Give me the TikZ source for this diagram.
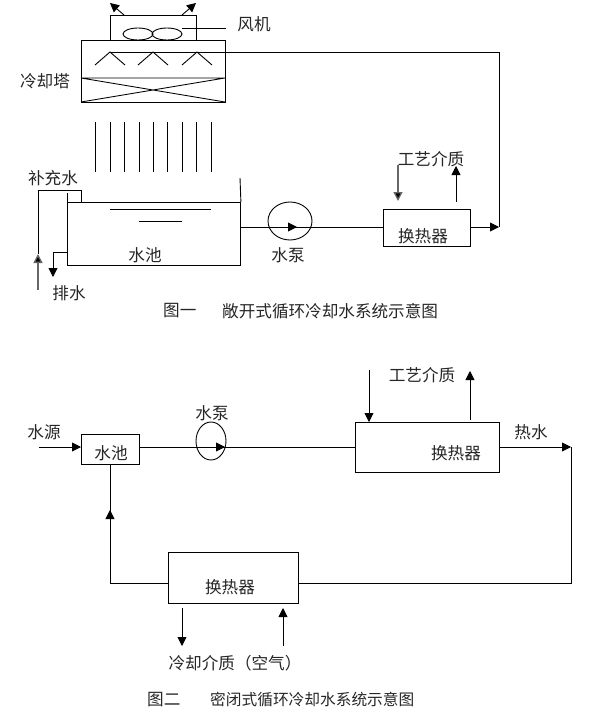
\documentclass[tikz,border=0pt]{standalone}
\usepackage{fontspec}
\usetikzlibrary{arrows.meta,shapes.geometric}
\newfontfamily\cjk{Noto Sans CJK SC}[Scale=1]
\tikzset{
  lbl/.style={inner sep=0pt,font=\cjk\fontsize{16.6}{17}\selectfont,text=black!85},
  lblb/.style={inner sep=0pt,font=\cjk\fontsize{15.7}{17}\selectfont,text=black!85},
  boxn/.style={draw,line width=0.9pt,inner sep=0pt,anchor=north west},
  ln/.style={line width=0.9pt},
  arr/.style={line width=0.9pt,-{Triangle[length=9pt,width=9pt]}},
  garr/.style={line width=1.3pt,draw=black!60,-{Triangle[length=9pt,width=9pt,fill=black]}},
  circ/.style={draw,ellipse,line width=0.9pt,inner sep=0pt}
}
\newcommand{\bx}[6]{\node[boxn,minimum width=#4 pt,minimum height=#5 pt] (#1) at (#2,#3) {#6};}
\begin{document}
\begin{tikzpicture}[x=1pt,y=-1pt]
\useasboundingbox (0,0) rectangle (599,717);
% Figure 1: tower
\bx{fanbox}{110}{15}{86}{25}{}
\bx{tower}{81}{40}{144}{62}{}
\coordinate (fillL) at (81,78);
\coordinate (fillR) at (225,78);
\coordinate (tbl) at (81,102);
\coordinate (tbr) at (225,102);
\draw[ln] (fillL) -- (fillR) (fillL) -- (tbr) (tbl) -- (fillR);
\node[circ,minimum width=30pt,minimum height=12pt] (fan1) at (138,34) {};
\node[circ,minimum width=30pt,minimum height=12pt] (fan2) at (167,34) {};
\coordinate (out1s) at (124,15); \coordinate (out1e) at (110,3);
\coordinate (out2s) at (182,15); \coordinate (out2e) at (196,3);
\draw[arr] (out1s) -- (out1e);
\draw[arr] (out2s) -- (out2e);
\node[lbl] (fanlbl) at (254,24) {风机};
\coordinate (fanlead) at (226,28);
\draw[ln] (182,28) -- (fanlead);
\node[lbl] (towerlbl) at (45,81) {冷却塔};
\foreach \a in {110,153,197}
  \draw[ln] (\a-15,65) -- (\a,52) -- (\a+15,65);
\foreach \a in {95,110,124,139,153,167,182,196,211}
  \draw[ln] (\a,122) -- (\a,172);
% Pool
\bx{pool}{67}{202}{173}{63}{}
\draw[ln] (pool.north west) -- (67,193);
\draw[ln] (pool.north east) -- (240,178);
\draw[ln] (110,209) -- (211,209);
\draw[ln] (139,221) -- (182,221);
\node[lbl] (poollbl) at (145,255) {水池};
\coordinate (mk0) at (38,290);
\coordinate (mk1) at (38,254);
\coordinate (mk2) at (38,190);
\coordinate (mk3) at (81,190);
\coordinate (mk4) at (81,202);
\draw[ln] (mk1) -- (mk2) -- (mk3) -- (mk4);
\draw[garr] (mk0) -- (mk1);
\node[lbl] (mklbl) at (53,178) {补充水};
\coordinate (dr0) at (67,252);
\coordinate (dr1) at (53,252);
\coordinate (dr2) at (53,277);
\draw[arr] (dr0) -- (dr1) -- (dr2);
\node[lbl] (drlbl) at (69,293) {排水};
% Pump & HX
\node[circ,minimum width=44pt,minimum height=38pt] (pump1) at (290,221) {};
\bx{hx1}{383}{209}{87}{37}{}
\coordinate (p1in) at (240,227);
\coordinate (p1tip) at (297,227);
\draw[ln] (p1in) -- (hx1.west |- p1in);
\draw[arr] (p1in) -- (p1tip);
\node[lbl] (p1lbl) at (288,255) {水泵};
\node[lbl] (hx1lbl) at (423,236) {换热器};
\node[lbl] (proc1) at (431,159) {工艺介质};
\coordinate (pd0) at (398,165); \coordinate (pd1) at (398,201);
\coordinate (pu0) at (456,202); \coordinate (pu1) at (456,166);
\draw[garr] (pd0) -- (pd1);
\draw[arr] (pu0) -- (pu1);
\coordinate (ret) at (499,227);
\coordinate (rettop) at (499,52);
\coordinate (roof) at (110,52);
\draw[ln] (roof) -- (rettop) -- (ret);
\draw[arr] (470,227) -- (ret);
\node[lbl,anchor=west] (cap1a) at (163,311) {图一};
\node[lbl,anchor=west] (cap1b) at (222,311) {敞开式循环冷却水系统示意图};
% Figure 2
\bx{pool2}{81}{434}{58}{30}{}
\node[lbl] (pool2lbl) at (111,453) {水池};
\node[lbl] (srclbl) at (44,432) {水源};
\coordinate (src) at (39,447);
\draw[arr] (src) -- (pool2.west |- src);
\bx{hx2}{355}{422}{144}{50}{}
\node[lbl] (hx2lbl) at (456,453) {换热器};
\node[circ,minimum width=30pt,minimum height=38pt] (pump2) at (211,441) {};
\node[lbl] (p2lbl) at (212,413) {水泵};
\coordinate (p2a) at (139,447);
\coordinate (p2tip) at (225,447);
\draw[ln] (p2a) -- (hx2.west |- p2a);
\draw[arr] (p2a) -- (p2tip);
\node[lbl] (proc2) at (422,375) {工艺介质};
\coordinate (q0) at (369,370); \coordinate (q1) at (369,422);
\coordinate (q2) at (470,420); \coordinate (q3) at (470,371);
\draw[arr] (q0) -- (q1);
\draw[arr] (q2) -- (q3);
\node[lbl] (hotlbl) at (531,432) {热水};
\coordinate (hotc) at (571,447);
\coordinate (hotd) at (571,583);
\draw[arr] (hx2.east |- hotc) -- (hotc);
\bx{hx3}{168}{552}{130}{51}{}
\node[lbl] (hx3lbl) at (230,587) {换热器};
\draw[ln] (hotc) -- (hotd) -- (hx3.east |- hotd);
\coordinate (bk0) at (110,583);
\coordinate (bk1) at (110,510);
\draw[ln] (hx3.west |- bk0) -- (bk0) -- (pool2.south -| bk0);
\draw[arr] (bk0) -- (bk1);
\coordinate (c0) at (182,608); \coordinate (c1) at (182,646);
\coordinate (c2) at (283,646); \coordinate (c3) at (283,608);
\draw[arr] (c0) -- (c1);
\draw[arr] (c2) -- (c3);
\node[lbl] (coollbl) at (235,663) {冷却介质（空气）};
\node[lbl,anchor=west] (cap2a) at (147,700) {图二};
\node[lblb,anchor=west] (cap2b) at (210,700) {密闭式循环冷却水系统示意图};
\end{tikzpicture}
\end{document}
